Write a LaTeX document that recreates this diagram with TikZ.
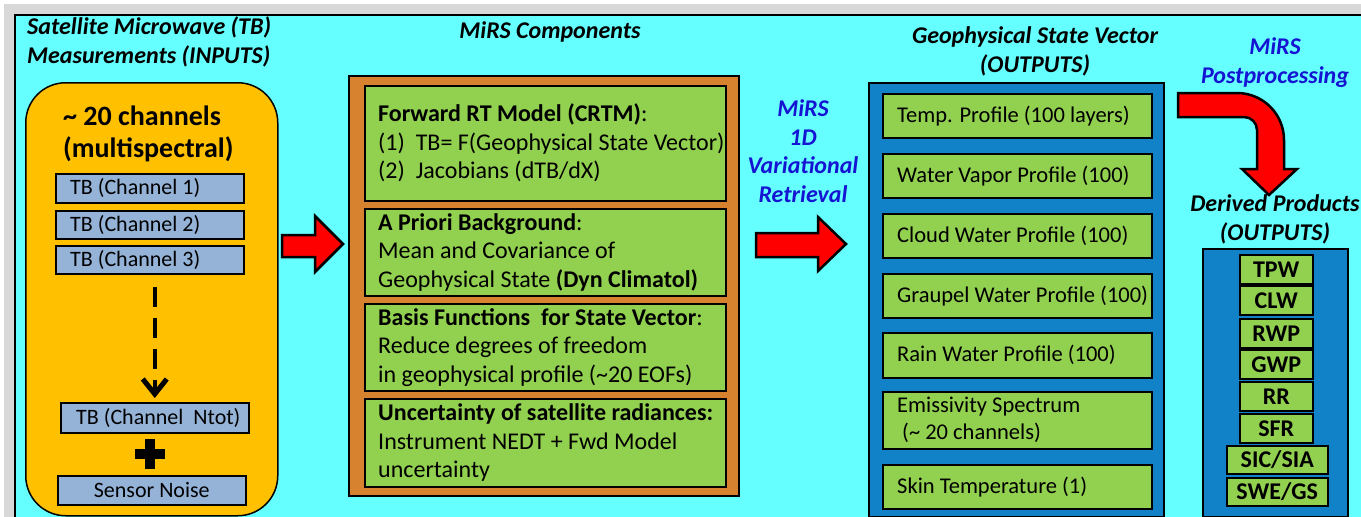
\documentclass[tikz,border=0pt]{standalone}
\usepackage{fontspec}
\setmainfont{Carlito}
\usetikzlibrary{arrows.meta,calc,positioning}
\definecolor{framegray}{RGB}{216,216,216}
\definecolor{skycyan}{RGB}{102,255,255}
\definecolor{goldbox}{RGB}{255,192,0}
\definecolor{chanblue}{RGB}{149,179,215}
\definecolor{rust}{RGB}{214,130,46}
\definecolor{leaf}{RGB}{146,208,80}
\definecolor{ocean}{RGB}{18,130,200}
\definecolor{mirsblue}{RGB}{20,20,210}
\newcommand{\hdrfont}{\fontsize{24}{28.5}\selectfont\bfseries\itshape}
\newcommand{\chanfont}{\fontsize{22}{26}\selectfont}
\newcommand{\txtfont}{\fontsize{24}{28.5}\selectfont}
\newcommand{\statefont}{\fontsize{22.5}{27}\selectfont}
\newcommand{\prodfont}{\fontsize{24}{28}\selectfont\bfseries}
\tikzset{
  hdr/.style={font=\hdrfont, inner sep=0pt},
  bhdr/.style={font=\hdrfont, text=mirsblue, inner sep=0pt},
  box/.style={draw, line width=1.5pt, anchor=north west, inner sep=0pt},
  chanbox/.style={box, fill=chanblue, minimum width=188, font=\chanfont},
  chanlbl/.style={anchor=west, xshift=15pt, inner sep=0pt, font=\chanfont},
  compbox/.style={box, fill=leaf, minimum width=361},
  statebox/.style={box, fill=leaf, minimum width=269},
  txtlbl/.style={anchor=west, xshift=14pt, inner sep=0pt, align=left, font=\txtfont},
  statelbl/.style={anchor=west, xshift=15pt, inner sep=0pt, align=left, font=\statefont},
  prodbox/.style={box, fill=leaf, minimum width=73, minimum height=29, font=\prodfont},
  redarrow/.style={fill=red, draw=black, line width=2.5pt, line join=miter},
  dasharr/.style={line width=4pt, dash pattern=on 20pt off 11pt,
    -{Straight Barb[length=15pt,width=24pt,line width=5pt]}}
}
\begin{document}
\begin{tikzpicture}[x=1pt,y=-1pt]
\useasboundingbox (0,0) rectangle (1361,517);
% frame
\fill[white] (0,0) rectangle (1361,517);
\fill[framegray] (4,4) rectangle (1361,517);
\fill[skycyan] (15,15) rectangle (1361,517);
\draw[line width=2.5pt] (15,517) -- (15,15) -- (1361,15);

% inputs (base = last line)
\node[hdr, align=left, anchor=base west] (inhdr) at (27,63) {Satellite Microwave (TB)\\Measurements (INPUTS)};
\node[box, fill=goldbox, rounded corners=40pt, minimum width=252, minimum height=433] (inbox) at (25,82) {};
\node[font=\fontsize{28}{32}\selectfont\bfseries, align=left, anchor=base west, inner sep=0pt] (nch) at (63,157) {\textasciitilde{} 20 channels\\(multispectral)};
\node[chanbox, minimum height=29, label={[chanlbl]west:TB (Channel 1)}] (ch1) at (55,173) {};
\node[chanbox, minimum height=28, label={[chanlbl]west:TB (Channel 2)}] (ch2) at (55,210) {};
\node[chanbox, minimum height=28, label={[chanlbl]west:TB (Channel 3)}] (ch3) at (55,245) {};
\node[chanbox, minimum height=30, label={[chanlbl, xshift=1pt]west:TB (Channel\ \ Ntot)}] (chN) at (60,402) {};
\node[chanbox, minimum height=29] (noise) at (57,475) {Sensor Noise};
\draw[dasharr] ([yshift=-12pt]chN.north |- ch3.south) -- ([yshift=4pt]chN.north);
\coordinate (plus) at ($(chN.south)!0.5!(noise.north)+(-3,0)$);
\draw[line width=10pt] ($(plus)+(-15,0)$) -- ($(plus)+(15,0)$) ($(plus)+(0,-15)$) -- ($(plus)+(0,15)$);

\draw[redarrow] (282,235) -- (315,235) -- (315,216) -- (343,244) -- (315,272) -- (315,257) -- (282,257) -- cycle;

% components
\node[hdr, anchor=base] (comphdr) at (550,38) {MiRS Components};
\node[box, fill=rust, minimum width=390, minimum height=420] (comps) at (348,75) {};
\node[compbox, minimum height=115, label={[txtlbl]west:{\textbf{Forward RT Model (CRTM)}:\\(1)\ \ TB= F(Geophysical State Vector)\\(2)\ \ Jacobians (dTB/dX)}}] (fwd) at (364,85) {};
\node[compbox, minimum height=87, label={[txtlbl]west:{\textbf{A Priori Background}:\\Mean and Covariance of\\Geophysical State \textbf{(Dyn Climatol)}}}] (prior) at (364,208) {};
\node[compbox, minimum height=87, label={[txtlbl]west:{\textbf{Basis Functions\ \ for State Vector}:\\Reduce degrees of freedom\\in geophysical profile (\textasciitilde20 EOFs)}}] (basis) at (364,303) {};
\node[compbox, minimum height=88, label={[txtlbl]west:{\textbf{Uncertainty of satellite radiances:}\\Instrument NEDT + Fwd Model\\uncertainty}}] (unc) at (364,398) {};

% retrieval
\node[bhdr, align=center, anchor=base] (retr) at (803,202) {MiRS\\1D\\Variational\\Retrieval};
\draw[redarrow] (756,233) -- (818,233) -- (818,217) -- (846,244) -- (818,271) -- (818,257) -- (756,257) -- cycle;

% state vector
\node[hdr, align=center, anchor=base] (outhdr) at (1035,72) {Geophysical State Vector\\(OUTPUTS)};
\node[box, fill=ocean, minimum width=295, minimum height=434] (statecol) at (868,82) {};
\node[statebox, minimum height=44, label={[statelbl]west:Temp. Profile (100 layers)}] (temp) at (882,93) {};
\node[statebox, minimum height=44, label={[statelbl]west:Water Vapor Profile (100)}] (vapor) at (882,153) {};
\node[statebox, minimum height=44, label={[statelbl]west:Cloud Water Profile (100)}] (cloud) at (882,213) {};
\node[statebox, minimum height=44, label={[statelbl]west:Graupel Water Profile (100)}] (graupel) at (882,273) {};
\node[statebox, minimum height=45, label={[statelbl]west:Rain Water Profile (100)}] (rain) at (882,332) {};
\node[statebox, minimum height=57, label={[statelbl]west:{Emissivity Spectrum\\\hspace*{5pt}(\textasciitilde{} 20 channels)}}] (emis) at (882,391) {};
\node[statebox, minimum height=44, label={[statelbl]west:Skin Temperature (1)}] (skin) at (882,464) {};

% postprocessing
\node[bhdr, align=center, anchor=base] (post) at (1275,83) {MiRS\\Postprocessing};
\draw[redarrow] (1178,93) -- (1237,93) arc (-90:0:47) -- (1284,169) -- (1297,169) -- (1269,195)
  -- (1242,169) -- (1257,169) -- (1257,130) arc (0:-90:13) -- (1178,117) -- cycle;
\node[hdr, align=center, anchor=base] (drvhdr) at (1275,240) {Derived Products\\(OUTPUTS)};
\node[box, fill=ocean, minimum width=145, minimum height=268] (prodcol) at (1202,248) {};
\node[prodbox] (tpw) at (1239,254) {TPW};
\node[prodbox] (clw) at (1239,285) {CLW};
\node[prodbox] (rwp) at (1239,318) {RWP};
\node[prodbox] (gwp) at (1239,349) {GWP};
\node[prodbox] (rr) at (1239,381) {RR};
\node[prodbox] (sfr) at (1239,413) {SFR};
\node[prodbox, minimum width=101, minimum height=28] (sic) at (1226,445) {SIC/SIA};
\node[prodbox, minimum width=101, minimum height=28] (swe) at (1226,477) {SWE/GS};
\end{tikzpicture}
\end{document}
